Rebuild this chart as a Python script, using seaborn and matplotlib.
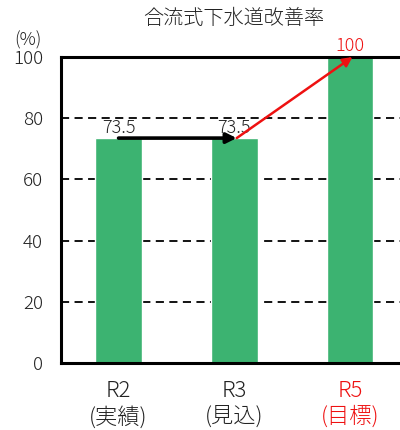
import matplotlib
matplotlib.use("Agg")
import matplotlib.pyplot as plt
import seaborn as sns
import pandas as pd

# Combined sewer improvement rate by fiscal year
years = ["R2", "R3", "R5"]
notes = ["(実績)", "(見込)", "(目標)"]
rates = [73.5, 73.5, 100]
yticks = [0, 20, 40, 60, 80, 100]

sns.set_theme(style="white")
plt.rcParams["font.family"] = ["Noto Sans CJK JP", "DejaVu Sans"]
plt.rcParams["font.weight"] = "light"

df = pd.DataFrame({"year": [f"{y}\n{n}" for y, n in zip(years, notes)],
                   "rate": rates})

fig = plt.figure(figsize=(4.0, 4.3), dpi=100)
ax = fig.add_axes([61 / 400, 67 / 430, 1 - 61 / 400, (363 - 57) / 430])

sns.barplot(data=df, x="year", y="rate", color="#3CB371", saturation=1,
            width=0.4, ax=ax, zorder=2)

ax.set_ylim(0, 100)
ax.set_xlim(-0.497, 2.43)
ax.set_yticks(yticks)
ax.set_yticklabels([str(t) for t in yticks], fontsize=13.5, color="#222222")
for t in yticks[1:-1]:
    ax.axhline(t, color="black", linestyle=(0, (4.5, 3)), linewidth=1.3, zorder=1)

ax.tick_params(axis="y", length=0, pad=13)
ax.tick_params(axis="x", length=0, pad=12, labelsize=16)
for lbl, color in zip(ax.get_xticklabels(), ["#222222", "#222222", "#ee1111"]):
    lbl.set_color(color)
    lbl.set_linespacing(1.22)

ax.set_xlabel("")
ax.set_ylabel("")
for side in ["left", "bottom", "top"]:
    ax.spines[side].set_color("black")
    ax.spines[side].set_linewidth(2.2)
ax.spines["right"].set_visible(False)

# value labels above each bar
label_colors = ["#222222", "#222222", "#ee1111"]
for i, (v, c) in enumerate(zip(rates, label_colors)):
    ax.annotate(f"{v:g}", (i, v), xytext=(0, 4), textcoords="offset points",
                ha="center", va="baseline", fontsize=13, color=c, zorder=5,
                annotation_clip=False)

# trend arrows between bars
ax.annotate("", xy=(1.02, rates[1]), xytext=(0, rates[0]),
            arrowprops=dict(arrowstyle="-|>", color="black", lw=2.6,
                            mutation_scale=15, shrinkA=0, shrinkB=0), zorder=6)
ax.annotate("", xy=(2.02, rates[2]), xytext=(1.02, rates[1]),
            arrowprops=dict(arrowstyle="-|>", color="#ee1111", lw=1.8,
                            mutation_scale=14, shrinkA=0, shrinkB=0),
            zorder=6, annotation_clip=False)

fig.text(234 / 400, 1 - 19 / 430, "合流式下水道改善率", ha="center", va="center",
         fontsize=14.5, color="#222222")
fig.text(28 / 400, 1 - 40 / 430, "(%)", ha="center", va="center",
         fontsize=13, color="#222222")

fig.savefig("out.png", dpi=100)
